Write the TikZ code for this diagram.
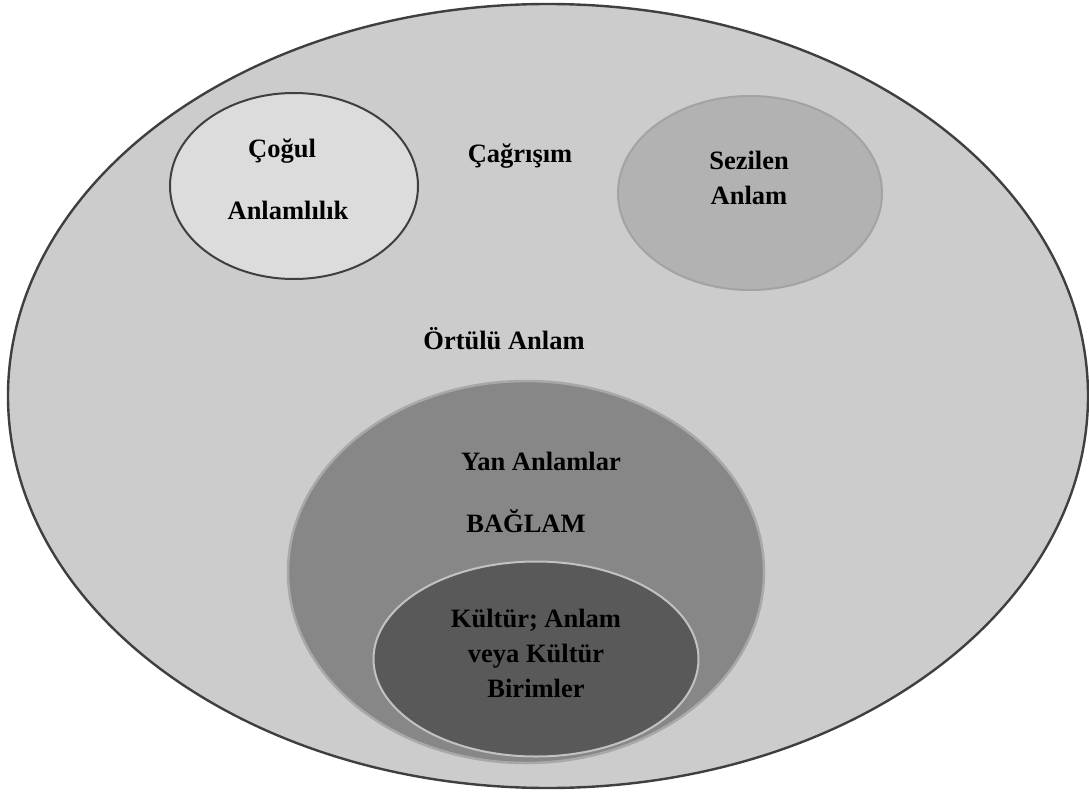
\documentclass[tikz,border=0pt]{standalone}
\usepackage{fontspec}
\setmainfont{Liberation Serif}
\usetikzlibrary{shapes.geometric}

\definecolor{outerfill}{HTML}{CCCCCC}
\definecolor{darkline}{HTML}{3F3F3F}
\definecolor{cogulfill}{HTML}{DCDCDC}
\definecolor{sezfill}{HTML}{B2B2B2}
\definecolor{sezline}{HTML}{A3A3A3}
\definecolor{yanfill}{HTML}{878787}
\definecolor{yanline}{HTML}{A8A8A8}
\definecolor{kulfill}{HTML}{595959}
\definecolor{kulline}{HTML}{C2C2C2}

\tikzset{
  blob/.style={ellipse, inner sep=0pt, outer sep=0pt},
  lbl/.style={anchor=base, inner sep=0pt, align=center,
    font=\fontsize{26.5}{35}\selectfont\bfseries, text=black}
}

\begin{document}
\begin{tikzpicture}[x=1pt, y=-1pt]
  \useasboundingbox (0,0) rectangle (1089,794);

  % nested regions
  \node[blob, fill=outerfill, draw=darkline, line width=2.4pt,
        minimum width=1080pt, minimum height=784pt] (outer) at (548,396) {};
  \node[blob, fill=cogulfill, draw=darkline, line width=2pt,
        minimum width=248pt, minimum height=186pt] (cogul) at (294,186) {};
  \node[blob, fill=sezfill, draw=sezline, line width=2pt,
        minimum width=264pt, minimum height=194pt] (sezilen) at (750,193) {};
  \node[blob, fill=yanfill, draw=yanline, line width=2.5pt,
        minimum width=476pt, minimum height=382pt] (yan) at (526,572) {};
  \node[blob, fill=kulfill, draw=kulline, line width=2pt,
        minimum width=325pt, minimum height=195pt] (kultur) at (536,659) {};

  % labels (multi-line blocks are placed by the baseline of their last line)
  \node[lbl] (tcogul) at (282,158) {Çoğul};
  \node[lbl] (tanlamlilik) at (288,220) {Anlamlılık};
  \node[lbl] (tcagrisim) at (520,163) {Çağrışım};
  \node[lbl] (tsezilen) at (749,205) {Sezilen\\Anlam};
  \node[lbl] (tortulu) at (504,349) {Örtülü Anlam};
  \node[lbl] (tyan) at (541,470) {Yan Anlamlar};
  \node[lbl] (tbaglam) at (526,532) {BAĞLAM};
  \node[lbl] (tkultur) at (536,697) {Kültür; Anlam\\veya Kültür\\Birimler};
\end{tikzpicture}
\end{document}
